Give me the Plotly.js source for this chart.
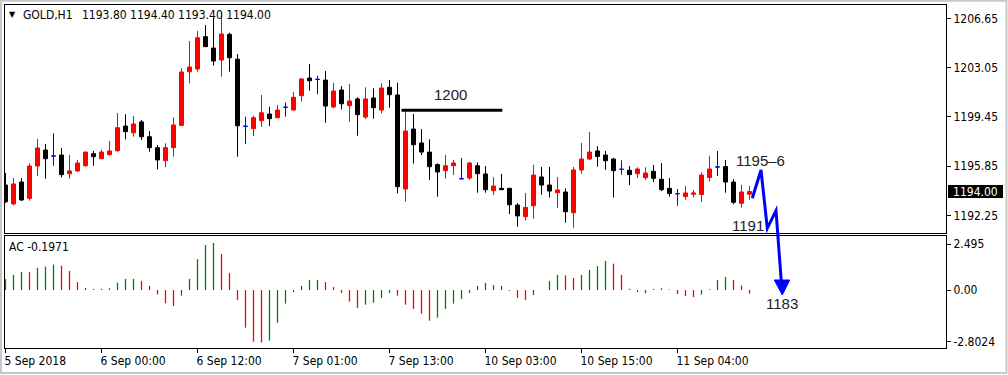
<!DOCTYPE html>
<html>
<head>
<meta charset="utf-8">
<script src="https://cdn.plot.ly/plotly-3.0.1.min.js"></script>
<style>html,body{margin:0;padding:0;background:#fff;}#chart{width:1008px;height:375px;}</style>
</head>
<body>
<div id="chart"></div>
<script>
// ---- Data (GOLD, H1) ----
var opens = [1194.47,1193.09,1194.69,1193.50,1195.86,1197.03,1196.59,1196.66,1195.30,1195.50,
1195.88,1196.76,1196.39,1196.69,1196.98,1198.78,1198.29,1199.08,1198.00,1197.20,
1196.25,1197.20,1198.83,1202.75,1202.95,1205.31,1204.48,1203.60,1205.48,1203.66,
1198.76,1198.59,1199.17,1199.66,1199.39,1200.15,1199.95,1201.00,1202.29,1202.19,
1202.14,1200.17,1201.41,1200.27,1200.76,1199.44,1200.83,1199.95,1201.61,1201.05,
1194.18,1198.56,1197.54,1196.88,1195.96,1195.52,1195.88,1194.93,1194.98,1195.88,
1195.28,1194.06,1194.23,1194.23,1193.01,1192.16,1192.96,1195.06,1194.47,1193.91,
1193.96,1192.45,1195.57,1196.37,1196.96,1196.66,1196.37,1195.62,1195.55,1195.30,
1195.01,1195.47,1194.89,1194.23,1193.84,1193.63,1193.80,1193.78,1195.02,1195.79,
1195.82,1194.69,1193.14,1193.80];
var highs = [1195.35,1194.98,1194.98,1196.06,1197.83,1197.47,1198.25,1197.18,1196.66,1196.30,
1196.90,1196.96,1197.05,1197.69,1199.73,1199.64,1199.51,1199.22,1198.42,1197.40,
1197.52,1199.42,1203.00,1204.99,1205.72,1206.16,1206.67,1207.11,1205.60,1204.04,
1199.46,1199.54,1201.05,1200.19,1200.32,1200.49,1201.27,1202.27,1203.31,1202.46,
1202.80,1201.92,1201.70,1201.85,1200.88,1201.61,1201.54,1201.90,1202.14,1201.95,
1199.83,1199.66,1198.56,1197.81,1196.06,1196.66,1196.30,1196.45,1196.15,1196.13,
1195.86,1195.04,1195.28,1194.25,1193.16,1193.89,1195.95,1195.79,1195.79,1195.06,
1194.23,1195.79,1197.54,1198.34,1197.32,1196.96,1196.45,1196.28,1195.86,1195.77,
1195.77,1195.93,1196.08,1194.98,1194.18,1194.40,1194.11,1195.39,1196.61,1196.96,
1196.30,1194.89,1194.49,1194.40];
var lows = [1193.16,1192.99,1193.30,1193.33,1195.13,1194.93,1195.88,1195.04,1194.93,1195.42,
1195.81,1195.88,1196.37,1196.64,1196.91,1197.81,1198.00,1197.76,1196.91,1195.62,
1195.77,1196.54,1198.78,1201.90,1202.75,1204.55,1203.20,1202.38,1202.75,1196.54,
1197.47,1198.05,1198.73,1198.78,1199.35,1199.46,1199.90,1200.56,1201.36,1201.10,
1199.02,1200.08,1200.00,1199.10,1198.07,1199.29,1199.32,1199.71,1200.12,1193.87,
1193.27,1196.04,1196.66,1194.84,1193.62,1194.93,1195.20,1194.90,1194.84,1193.91,
1193.91,1193.74,1194.11,1192.35,1191.43,1191.87,1192.00,1193.76,1193.55,1192.81,
1191.72,1191.35,1195.30,1196.30,1195.81,1195.58,1193.55,1195.23,1194.47,1194.98,
1194.84,1194.69,1194.03,1193.62,1192.96,1193.40,1193.56,1193.25,1194.73,1195.13,
1193.91,1193.06,1192.81,1193.40];
var closes = [1193.25,1194.55,1193.38,1195.86,1197.18,1196.39,1196.59,1195.23,1195.50,1196.08,
1196.88,1196.54,1196.88,1196.96,1198.66,1198.37,1198.93,1198.00,1197.20,1196.30,
1197.20,1198.86,1202.73,1203.09,1205.23,1204.58,1203.53,1205.50,1203.77,1198.80,
1198.76,1199.39,1199.75,1199.32,1199.95,1200.15,1200.88,1202.22,1202.09,1202.19,
1200.24,1201.34,1200.41,1200.61,1199.61,1200.76,1200.12,1201.56,1201.07,1194.35,
1198.42,1197.42,1196.88,1195.81,1195.42,1195.88,1196.08,1194.93,1196.08,1195.30,
1194.13,1194.40,1194.13,1193.03,1192.21,1192.84,1195.20,1194.47,1194.03,1194.11,
1192.52,1195.57,1196.37,1196.88,1196.55,1196.25,1195.52,1195.62,1195.23,1195.64,
1195.35,1194.96,1194.13,1193.85,1193.84,1193.89,1193.89,1195.20,1195.64,1195.79,
1194.69,1193.21,1193.96,1194.00];
// Accelerator Oscillator (AC)
var acValues = [0.60,0.82,0.98,0.97,1.21,1.27,1.38,1.32,1.03,0.43,
0.11,0.05,0.07,0.09,0.40,0.60,0.61,0.49,0.22,-0.24,
-0.72,-0.87,-0.31,0.60,1.68,2.45,2.55,1.96,0.92,-0.54,
-2.05,-2.81,-2.86,-2.75,-1.78,-0.74,-0.11,0.22,0.54,0.55,
0.43,0.16,-0.16,-0.63,-0.98,-0.80,-0.69,-0.43,-0.16,-0.31,
-0.80,-1.03,-1.29,-1.67,-1.50,-1.03,-0.74,-0.49,-0.16,0.22,
0.38,0.27,0.22,-0.05,-0.43,-0.54,-0.27,0.01,0.49,0.82,
0.80,0.65,0.82,1.09,1.30,1.58,1.43,0.82,0.07,-0.11,
-0.18,0.05,0.09,0.03,-0.22,-0.33,-0.38,-0.25,0.04,0.54,
0.71,0.54,0.24,-0.1971];
var timeTickIndex = [0,12,24,36,48,60,72,84];
var timeTickLabels = ["5 Sep 2018","6 Sep 00:00","6 Sep 12:00","7 Sep 01:00","7 Sep 13:00","10 Sep 03:00","10 Sep 15:00","11 Sep 04:00"];
var priceTicks = [1206.65,1203.05,1199.45,1195.85,1192.25];
var priceTickLabels = ["1206.65","1203.05","1199.45","1195.85","1192.25"];
var acTicks = [2.495,0,-2.8024];
var acTickLabels = ["2.495","0.00","-2.8024"];
var lastPrice = 1194.00;
var levelPrice = 1199.93;

// ---- Build traces ----
var RED = '#ff0000', BLK = '#000000', BLUE = '#0000ff', GREEN = '#008000';
function group(test) {
  var g = {x:[],open:[],high:[],low:[],close:[]};
  for (var i = 0; i < opens.length; i++) {
    if (test(opens[i], closes[i])) {
      g.x.push(i); g.open.push(opens[i]); g.high.push(highs[i]); g.low.push(lows[i]); g.close.push(closes[i]);
    }
  }
  return g;
}
function candleTrace(g, color) {
  return {type:'candlestick', xaxis:'x', yaxis:'y', x:g.x, open:g.open, high:g.high, low:g.low, close:g.close,
    increasing:{line:{color:color,width:1}, fillcolor:color},
    decreasing:{line:{color:color,width:1}, fillcolor:color},
    whiskerwidth:0, hoverinfo:'skip', showlegend:false};
}
var up = group(function(o,c){return c>o;});
var dn = group(function(o,c){return c<o;});
var dj = group(function(o,c){return c===o;});

var acX = [], acColors = [];
for (var i = 0; i < acValues.length; i++) {
  acX.push(i);
  acColors.push(i === 0 || acValues[i] > acValues[i-1] ? GREEN : RED);
}
var acTrace = {type:'bar', xaxis:'x2', yaxis:'y2', x:acX, y:acValues, width:0.16,
  marker:{color:acColors, line:{width:0}}, hoverinfo:'skip', showlegend:false};

var data = [candleTrace(up, RED), candleTrace(dn, BLK), candleTrace(dj, BLUE), acTrace];

// ---- Layout ----
var W = 1008, H = 375, ML = 5, MR = 62, MT = 5, MB = 27;
var plotW = W - ML - MR, plotH = H - MT - MB;
function px(X){ return (X - ML) / plotW; }
function py(Y){ return (H - MB - Y) / plotH; }
var xr = [-0.0625, -0.0625 + plotW / 8];
var baseFont = {family:'DejaVu Sans Condensed, DejaVu Sans, sans-serif', size:12, color:'#000'};
var labelFont = {family:'Liberation Sans Narrow, Liberation Sans, Arial, sans-serif', size:15, color:'#222'};
var axisCommon = {showgrid:false, zeroline:false, showline:true, mirror:true, linecolor:'#000', linewidth:1, fixedrange:true};

var layout = {
  width:W, height:H,
  margin:{l:ML, r:MR, t:MT, b:MB, pad:0},
  paper_bgcolor:'#ffffff', plot_bgcolor:'#ffffff',
  font:baseFont, showlegend:false,
  boxgap:0.5, boxgroupgap:0,
  xaxis:Object.assign({}, axisCommon, {domain:[0,1], anchor:'y', range:xr, showticklabels:false, ticks:'', rangeslider:{visible:false}}),
  yaxis:Object.assign({}, axisCommon, {domain:[py(232.5),1], anchor:'x', side:'right', range:[1191.003,1207.622],
    tickmode:'array', tickvals:priceTicks, ticktext:priceTickLabels, ticks:'outside', ticklen:4, tickcolor:'#000', tickfont:baseFont}),
  xaxis2:Object.assign({}, axisCommon, {domain:[0,1], anchor:'y2', range:xr, tickmode:'array', tickvals:timeTickIndex, ticktext:timeTickLabels,
    ticks:'outside', ticklen:4, tickcolor:'#000', ticklabelposition:'outside right', ticklabelshift:-2, ticklabelstandoff:2, tickfont:baseFont, rangeslider:{visible:false}}),
  yaxis2:Object.assign({}, axisCommon, {domain:[0,py(236.2)], anchor:'x2', side:'right', range:[-3.152,2.924],
    tickmode:'array', tickvals:acTicks, ticktext:acTickLabels, ticks:'outside', ticklen:4, tickcolor:'#000', tickfont:baseFont}),
  shapes:[
    // outer window frame
    {type:'rect', xref:'paper', yref:'paper', x0:px(1), x1:px(1006.5), y0:py(373), y1:py(0.8), line:{color:'#c8c8c8', width:2}, layer:'below'},
    // 1200 level line
    {type:'line', xref:'x', yref:'y', x0:49.5, x1:62.1, y0:levelPrice, y1:levelPrice, line:{color:'#000', width:3}},
    // blue forecast zigzag
    {type:'path', xref:'paper', yref:'paper',
      path:'M '+px(752.3)+','+py(198.3)+' L '+px(761)+','+py(170)+' L '+px(767.3)+','+py(228.3)+' L '+px(776)+','+py(210.7)+' L '+px(781.4)+','+py(283),
      line:{color:BLUE, width:3}},
    {type:'path', xref:'paper', yref:'paper',
      path:'M '+px(774.3)+','+py(280)+' L '+px(789.7)+','+py(280)+' L '+px(782.3)+','+py(295)+' Z',
      fillcolor:BLUE, line:{color:BLUE, width:1}}
  ],
  annotations:[
    {xref:'paper', yref:'paper', x:px(12.8), y:py(14), text:'▼', showarrow:false, font:{family:'DejaVu Sans', size:8, color:'#000'}, xanchor:'center', yanchor:'middle'},
    {xref:'paper', yref:'paper', x:px(21), y:py(14.5), text:'GOLD,H1', showarrow:false, font:baseFont, xanchor:'left', yanchor:'middle'},
    {xref:'paper', yref:'paper', x:px(79.5), y:py(14.5), text:'1193.80 1194.40 1193.40 1194.00', showarrow:false, font:baseFont, xanchor:'left', yanchor:'middle'},
    {xref:'paper', yref:'paper', x:px(7), y:py(246.7), text:'AC -0.1971', showarrow:false, font:baseFont, xanchor:'left', yanchor:'middle'},
    {xref:'paper', yref:'y', x:px(948), y:lastPrice, text:'1194.00', showarrow:false, xanchor:'left', yanchor:'middle',
      bgcolor:'#000', borderpad:0, borderwidth:0, width:55, height:13, align:'center', font:{family:baseFont.family, size:12, color:'#fff'}},
    {xref:'paper', yref:'paper', x:px(450.3), y:py(95), text:'1200', showarrow:false, font:labelFont, xanchor:'center', yanchor:'middle'},
    {xref:'paper', yref:'paper', x:px(760.5), y:py(160), text:'1195–6', showarrow:false, font:labelFont, xanchor:'center', yanchor:'middle'},
    {xref:'paper', yref:'paper', x:px(748.3), y:py(225), text:'1191', showarrow:false, font:labelFont, xanchor:'center', yanchor:'middle'},
    {xref:'paper', yref:'paper', x:px(782.2), y:py(303.8), text:'1183', showarrow:false, font:labelFont, xanchor:'center', yanchor:'middle'}
  ]
};

Plotly.newPlot('chart', data, layout, {staticPlot:true, displayModeBar:false});
</script>
</body>
</html>
